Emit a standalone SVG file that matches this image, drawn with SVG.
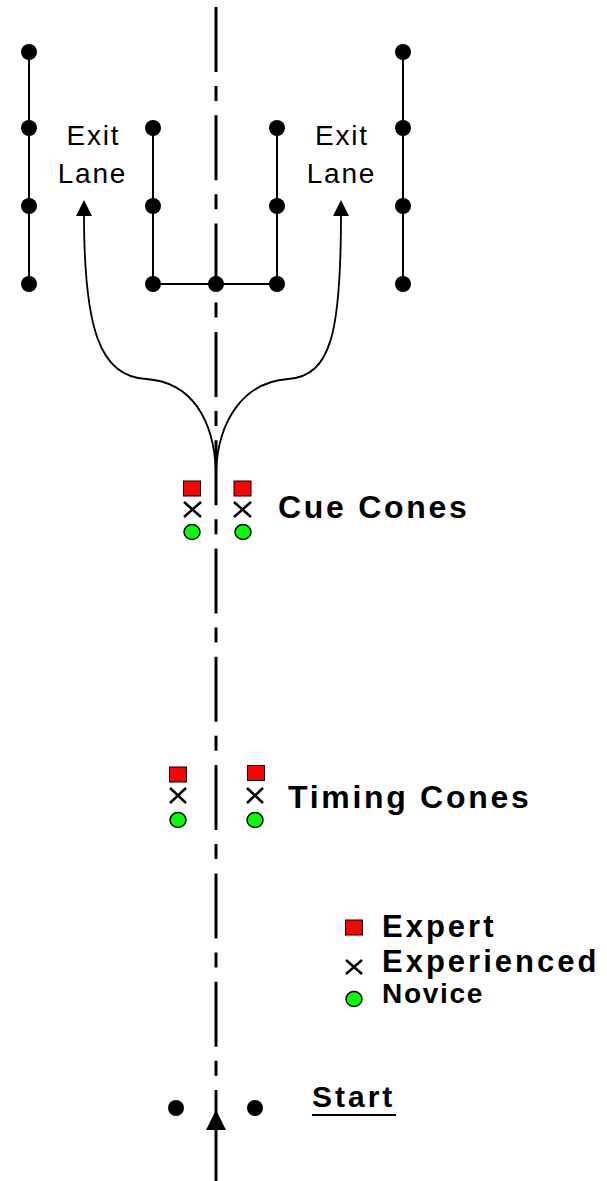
<svg xmlns="http://www.w3.org/2000/svg" width="607" height="1181" viewBox="0 0 607 1181">
<style>
.bg{fill:#fff}
.post{stroke:#000;stroke-width:2;fill:none}
.dot{fill:#000}
.cl{stroke:#000;stroke-width:3;fill:none;stroke-dasharray:65 14 15 14.3}
.curve{stroke:#000;stroke-width:1.8;fill:none}
.sq{fill:#ff0000;stroke:#000;stroke-width:1}
.x{stroke:#000;stroke-width:2.5;fill:none}
.ci{fill:#00ff00;stroke:#000;stroke-width:1.5}
.lbl{font-family:"Liberation Sans",Arial,sans-serif;fill:#000}
.b{font-weight:bold}
</style>
<rect class="bg" x="0" y="0" width="607" height="1181"/>

<g id="connectors">
<line class="cl" x1="216" y1="7" x2="216" y2="1076"/>
<path class="curve" d="M84,214 C84,330 100,376 146,379 C192,382 214,420 216,472"/>
<path class="curve" d="M341,214 C341,330 332,376 288,379 C244,382 218,420 216,472"/>
<path d="M84,200 L92,216 L76,216 Z" fill="#000"/>
<path d="M341,200 L349,216 L333,216 Z" fill="#000"/>
<line x1="216" y1="1090" x2="216" y2="1181" stroke="#000" stroke-width="3"/>
<path d="M216,1110 L226,1130 L206,1130 Z" fill="#000"/>
</g>

<g id="left-post">
<line class="post" x1="29" y1="52" x2="29" y2="284"/>
<circle class="dot" cx="29" cy="52" r="8"/>
<circle class="dot" cx="29" cy="128" r="8"/>
<circle class="dot" cx="29" cy="206" r="8"/>
<circle class="dot" cx="29" cy="284" r="8"/>
</g>
<g id="right-post">
<line class="post" x1="403" y1="52" x2="403" y2="284"/>
<circle class="dot" cx="403" cy="52" r="8"/>
<circle class="dot" cx="403" cy="128" r="8"/>
<circle class="dot" cx="403" cy="206" r="8"/>
<circle class="dot" cx="403" cy="284" r="8"/>
</g>
<g id="center-barrier">
<path class="post" d="M153,128 L153,284 L277,284 L277,128"/>
<circle class="dot" cx="153" cy="128" r="8"/>
<circle class="dot" cx="153" cy="206" r="8"/>
<circle class="dot" cx="153" cy="284" r="8"/>
<circle class="dot" cx="216" cy="284" r="8"/>
<circle class="dot" cx="277" cy="128" r="8"/>
<circle class="dot" cx="277" cy="206" r="8"/>
<circle class="dot" cx="277" cy="284" r="8"/>
</g>

<g id="exit-lane-left">
<text class="lbl" x="93.5" y="145" font-size="28" letter-spacing="1.8" text-anchor="middle">Exit</text>
<text class="lbl" x="92.5" y="183" font-size="28" letter-spacing="1.8" text-anchor="middle">Lane</text>
</g>
<g id="exit-lane-right">
<text class="lbl" x="342" y="145" font-size="28" letter-spacing="1.8" text-anchor="middle">Exit</text>
<text class="lbl" x="341.5" y="183" font-size="28" letter-spacing="1.8" text-anchor="middle">Lane</text>
</g>

<g id="cue-cones">
<rect class="sq" x="183.5" y="481" width="17" height="15"/>
<path class="x" d="M184,502 L201,517 M201,502 L184,517"/>
<ellipse class="ci" cx="192" cy="532" rx="8" ry="7.5"/>
<rect class="sq" x="234" y="481" width="17" height="15"/>
<path class="x" d="M234,502 L251,517 M251,502 L234,517"/>
<ellipse class="ci" cx="243" cy="532" rx="8" ry="7.5"/>
<text class="lbl b" x="278" y="518" font-size="32" letter-spacing="2.7">Cue Cones</text>
</g>

<g id="timing-cones">
<rect class="sq" x="169.5" y="767" width="17" height="15"/>
<path class="x" d="M170,788 L186,803 M186,788 L170,803"/>
<ellipse class="ci" cx="178" cy="820" rx="8" ry="7.5"/>
<rect class="sq" x="247.5" y="765.5" width="17" height="15"/>
<path class="x" d="M247,788 L263,803 M263,788 L247,803"/>
<ellipse class="ci" cx="255" cy="820" rx="8" ry="7.5"/>
<text class="lbl b" x="288" y="808" font-size="32" letter-spacing="2.7">Timing Cones</text>
</g>

<g id="legend">
<rect class="sq" x="345.5" y="920" width="17" height="15"/>
<text class="lbl b" x="382" y="937" font-size="31" letter-spacing="3">Expert</text>
<path class="x" d="M346,960 L362,974 M362,960 L346,974"/>
<text class="lbl b" x="382" y="972" font-size="31" letter-spacing="3">Experienced</text>
<ellipse class="ci" cx="354" cy="999" rx="8" ry="7.5"/>
<text class="lbl b" x="382" y="1003" font-size="28" letter-spacing="1.7">Novice</text>
</g>

<g id="start">
<circle class="dot" cx="176" cy="1108" r="8"/>
<circle class="dot" cx="255" cy="1108" r="8"/>
<text class="lbl b" x="312" y="1107" font-size="30" letter-spacing="3">Start</text>
<line x1="312" y1="1115" x2="396" y2="1115" stroke="#000" stroke-width="2"/>
</g>
</svg>
